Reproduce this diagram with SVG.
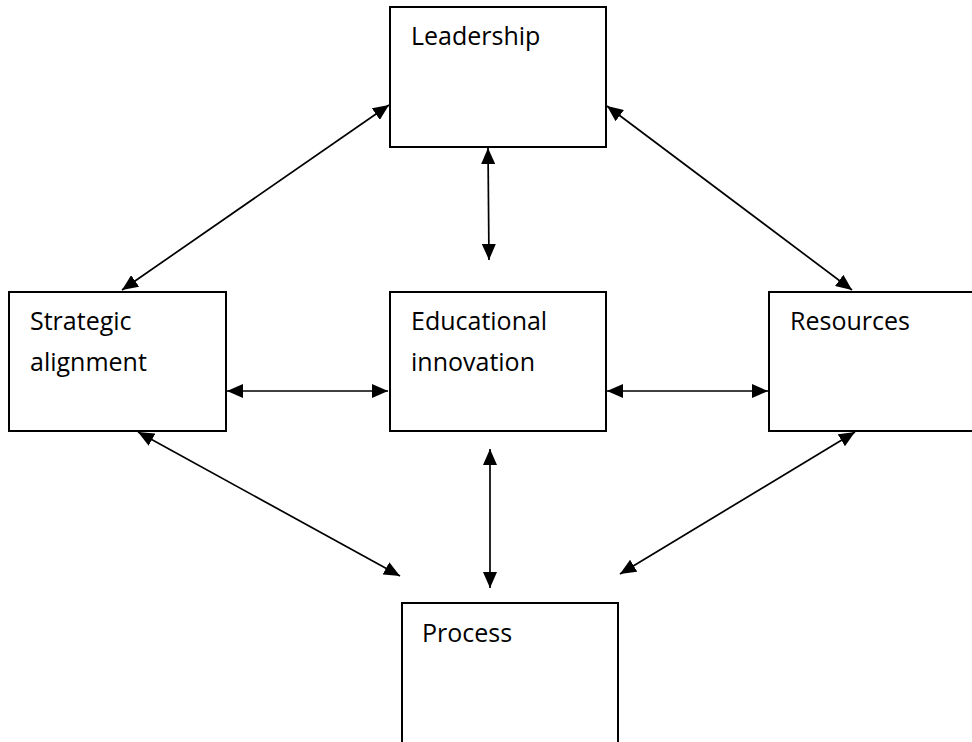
<svg xmlns="http://www.w3.org/2000/svg" width="972" height="742" viewBox="0 0 972 742">
<style>
.box{fill:#fff;stroke:#000;stroke-width:2}
.lbl{font-family:"Open Sans","Liberation Sans",sans-serif;font-size:25px;fill:#000}
.conn line{stroke:#000;stroke-width:1.7;marker-start:url(#ah);marker-end:url(#ah)}
</style>
<defs>
<marker id="ah" viewBox="0 0 16 14" refX="16" refY="7" markerWidth="16" markerHeight="14" markerUnits="userSpaceOnUse" orient="auto-start-reverse">
<path d="M0,0 L16,7 L0,14 Z" fill="#000"/>
</marker>
</defs>
<rect width="972" height="742" fill="#fff"/>
<g id="leadership">
<rect class="box" x="390" y="7" width="216" height="140"/>
<text class="lbl" x="411" y="45">Leadership</text>
</g>
<g id="strategic">
<rect class="box" x="9" y="292" width="217" height="139"/>
<text class="lbl" x="30" y="330">Strategic</text>
<text class="lbl" x="30" y="371">alignment</text>
</g>
<g id="educational">
<rect class="box" x="390" y="292" width="216" height="139"/>
<text class="lbl" x="411" y="330">Educational</text>
<text class="lbl" x="411" y="371">innovation</text>
</g>
<g id="resources">
<rect class="box" x="769" y="292" width="216" height="139"/>
<text class="lbl" x="790" y="330">Resources</text>
</g>
<g id="process">
<rect class="box" x="402" y="603" width="216" height="160"/>
<text class="lbl" x="422" y="642">Process</text>
</g>
<g id="connectors" class="conn">
<line x1="122" y1="290" x2="389" y2="105"/>
<line x1="607" y1="106" x2="852" y2="290"/>
<line x1="488" y1="148" x2="489" y2="260"/>
<line x1="227" y1="391" x2="388" y2="391"/>
<line x1="607" y1="391" x2="768" y2="391"/>
<line x1="490" y1="449" x2="490" y2="588"/>
<line x1="138" y1="432" x2="400" y2="576"/>
<line x1="620" y1="574" x2="855" y2="432"/>
</g>
</svg>
